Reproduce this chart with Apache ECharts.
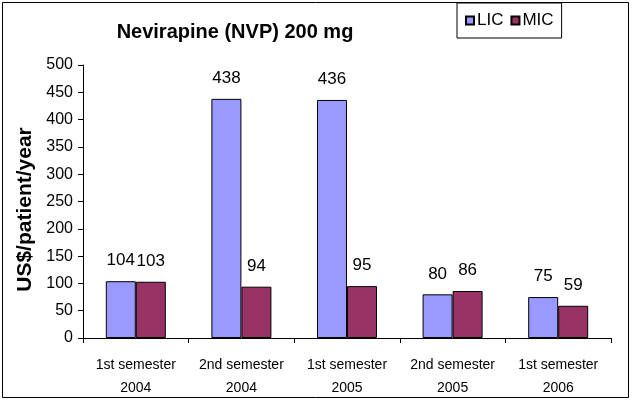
<!DOCTYPE html>
<html lang="en">
<head>
  <meta charset="UTF-8">
  <title>Nevirapine (NVP) 200 mg</title>
  <script src="https://cdn.jsdelivr.net/npm/echarts@6/dist/echarts.min.js"></script>
  <style>
    html, body { margin: 0; padding: 0; background: #fff; }
    #chart { width: 635px; height: 402px; }
  </style>
</head>
<body>
  <div id="chart"></div>
  <script>
    const categories = ['1st semester\n2004', '2nd semester\n2004', '1st semester\n2005', '2nd semester\n2005', '1st semester\n2006'];
    const lic = [104, 438, 436, 80, 75];
    const mic = [103, 94, 95, 86, 59];
    const yTicks = [0, 50, 100, 150, 200, 250, 300, 350, 400, 450, 500];

    const font = '"Liberation Sans", Arial, sans-serif';

    const option = {
      animation: false,
      textStyle: { fontFamily: font, color: '#000' },
      title: {
        text: 'Nevirapine (NVP) 200 mg',
        left: 230, top: 17, textAlign: 'center',
        textStyle: { fontFamily: font, fontWeight: 'bold', fontSize: 20, color: '#000' }
      },
      legend: {
        left: 457, top: 3,
        padding: [9, 8, 9, 8],
        borderColor: '#000', borderWidth: 1,
        icon: 'rect',
        itemWidth: 8, itemHeight: 8, itemGap: 7,
        textStyle: { fontFamily: font, fontSize: 17, color: '#000', padding: [0, 0, 0, -2] },
        data: ['LIC', 'MIC']
      },
      graphic: [{
        type: 'rect',
        shape: { x: 2.5, y: 2.5, width: 626, height: 395 },
        style: { fill: 'none', stroke: '#000', lineWidth: 1 },
        silent: true
      }],
      grid: { left: 83, right: 24, top: 65, bottom: 64 },
      xAxis: {
        type: 'category',
        data: categories,
        axisLine: { lineStyle: { color: '#000' } },
        axisTick: { show: true, alignWithLabel: false, length: 5, lineStyle: { color: '#000' } },
        axisLabel: { fontFamily: font, fontSize: 14, color: '#000', lineHeight: 23, margin: 16, interval: 0 }
      },
      yAxis: {
        type: 'value',
        min: 0, max: 500, interval: 50,
        name: 'US$/patient/year',
        nameLocation: 'middle',
        nameGap: 46,
        nameTextStyle: { fontFamily: font, fontWeight: 'bold', fontSize: 21, color: '#000', padding: [0, 16, 0, 0] },
        axisLine: { show: true, lineStyle: { color: '#000' } },
        axisTick: { show: true, length: 5, lineStyle: { color: '#000' } },
        splitLine: { show: false },
        axisLabel: {
          fontFamily: font, fontSize: 16, color: '#000', margin: 10,
          formatter: v => yTicks.includes(v) ? String(v) : ''
        }
      },
      series: [
        {
          name: 'LIC', type: 'bar', data: lic,
          barWidth: 30, barGap: '0%', barCategoryGap: '43%',
          itemStyle: { color: '#9999FF', borderColor: '#000', borderWidth: 1 },
          label: { show: true, position: 'top', distance: 12, fontFamily: font, fontSize: 17, color: '#000' }
        },
        {
          name: 'MIC', type: 'bar', data: mic,
          barWidth: 30, barGap: '0%',
          itemStyle: { color: '#993366', borderColor: '#000', borderWidth: 1 },
          label: { show: true, position: 'top', distance: 12, fontFamily: font, fontSize: 17, color: '#000' }
        }
      ]
    };
    echarts.init(document.getElementById('chart'), null, { renderer: 'canvas' }).setOption(option);
  </script>
</body>
</html>
